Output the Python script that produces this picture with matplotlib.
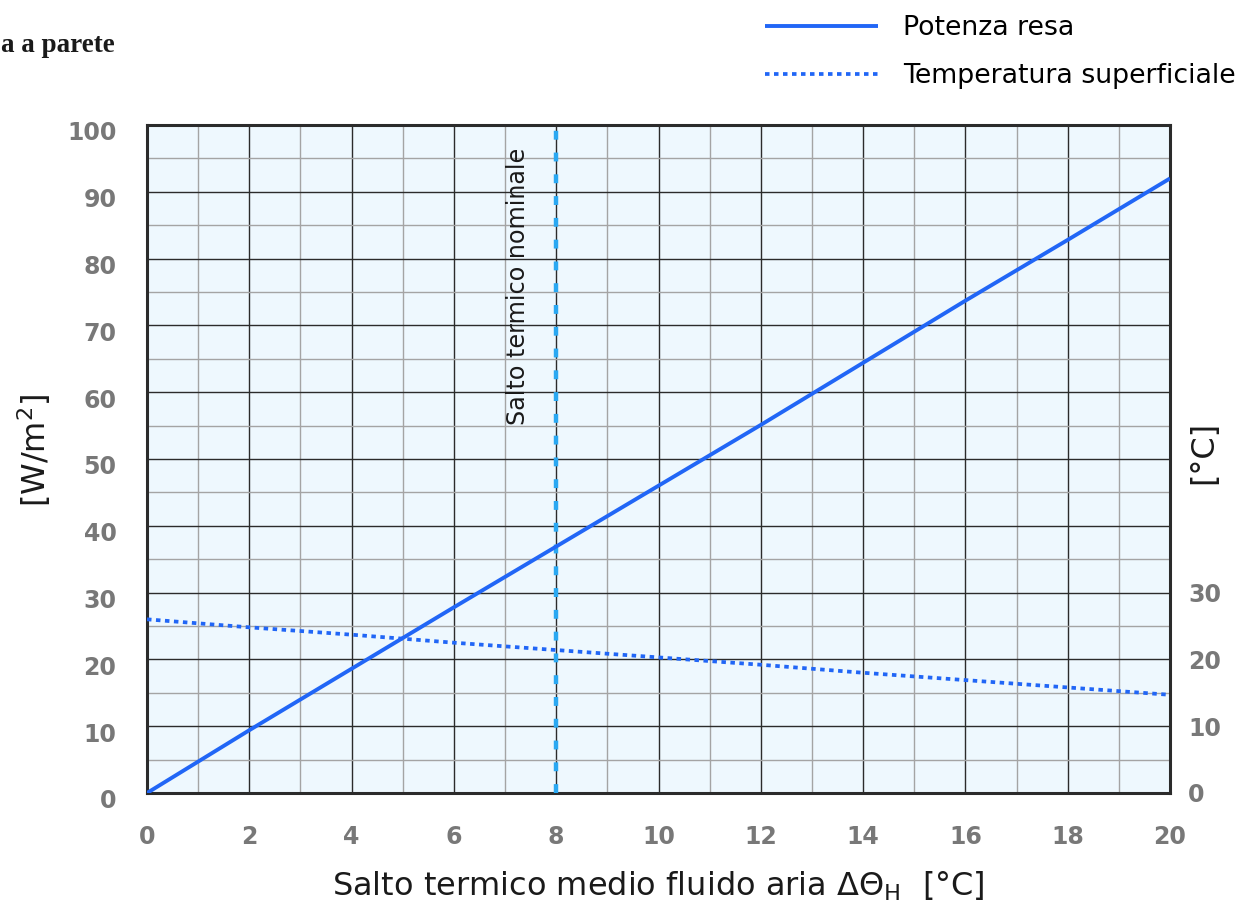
import matplotlib
matplotlib.use('Agg')
import matplotlib.pyplot as plt
import matplotlib.transforms as mtransforms
from matplotlib.ticker import MultipleLocator

plt.rcParams['font.family'] = ['DejaVu Sans']
plt.rcParams['mathtext.fontset'] = 'dejavusans'

# salto termico medio fluido-aria [°C]
dt = [0, 2, 4, 6, 8, 10, 12, 14, 16, 18, 20]
# potenza resa [W/m2]
potenza = [0, 9.4, 18.6, 27.8, 36.9, 46.0, 55.1, 64.4, 73.7, 82.8, 92.0]
# temperatura superficiale [°C]
temp_sup = [26.0, 24.8, 23.7, 22.5, 21.4, 20.3, 19.2, 18.0, 16.9, 15.8, 14.7]

dt_nominale = 8

x_ticks = list(range(0, 21, 2))
y_ticks = list(range(0, 101, 10))
y2_ticks = [0, 10, 20, 30]

blue = '#2166f6'
light_blue = '#2aa8f2'
tick_grey = '#787878'
text_col = '#1a1a1a'

fig = plt.figure(figsize=(12.47, 9.08), dpi=100)
ax = fig.add_axes([147/1247, 1 - 793/908, (1170 - 147)/1247, (793 - 125)/908])
ax.set_facecolor('#eef8fe')

ax.set_xlim(0, 20)
ax.set_ylim(0, 100)
ax.set_xticks(x_ticks)
ax.set_yticks(y_ticks)
ax.xaxis.set_minor_locator(MultipleLocator(1))
ax.yaxis.set_minor_locator(MultipleLocator(5))
ax.grid(which='major', color='#2b2b2b', linewidth=1.0)
ax.grid(which='minor', color='#a4a4a4', linewidth=1.0)
ax.set_axisbelow(True)
ax.tick_params(which='both', length=0)
ax.tick_params(axis='x', pad=23)
ax.tick_params(axis='y', pad=22)

for lab in ax.get_xticklabels() + ax.get_yticklabels():
    lab.set_fontsize(17)
    lab.set_fontweight('bold')
    lab.set_color(tick_grey)

offset = mtransforms.ScaledTranslation(0, -6/100, fig.dpi_scale_trans)
for lab in ax.get_yticklabels():
    lab.set_transform(lab.get_transform() + offset)

for side in ax.spines.values():
    side.set_color('#2b2b2b')
    side.set_linewidth(2.2)

# linea salto termico nominale
ax.axvline(dt_nominale, color=light_blue, linewidth=3.2, dashes=(2.0, 2.9), zorder=3)
ax.text(dt_nominale - 0.74, 96.6, 'Salto termico nominale', rotation=90,
        ha='center', va='top', fontsize=17.2, color=text_col)

l1, = ax.plot(dt, potenza, color=blue, linewidth=2.8, zorder=4,
              solid_capstyle='butt', label='Potenza resa')

ax2 = ax.twinx()
ax2.set_ylim(0, 100)
ax2.set_yticks(y2_ticks)
ax2.tick_params(length=0, pad=13)
for lab in ax2.get_yticklabels():
    lab.set_fontsize(17)
    lab.set_fontweight('bold')
    lab.set_color(tick_grey)
for side in ax2.spines.values():
    side.set_visible(False)
l2, = ax2.plot(dt, temp_sup, color=blue, linewidth=2.7, dashes=(1.2, 1.2),
               label='Temperatura superficiale')
ax2.set_ylabel('[°C]', fontsize=23, color=text_col)
ax2.yaxis.set_label_coords(1.0176, 0.51)

ax.set_xlabel(r'Salto termico medio fluido aria $\Delta\Theta_\mathrm{H}$  [°C]',
              fontsize=23, color=text_col, labelpad=15)
ax.set_ylabel(r'[W/m$^2$]', fontsize=23, color=text_col)
ax.yaxis.set_label_coords(-0.092, 0.513)

fig.legend(handles=[l1, l2], loc='upper left', bbox_to_anchor=(765/1247, 1 - 15/908),
           frameon=False, fontsize=19.3, handlelength=4.2, handletextpad=0.95,
           labelspacing=0.82, borderaxespad=0, borderpad=0)

fig.text(1/1247, 1 - 46/908, 'a a parete', ha='left', va='center',
         fontsize=19.5, fontweight='bold', family='Liberation Serif', color=text_col)

fig.savefig('out.png', dpi=100)
